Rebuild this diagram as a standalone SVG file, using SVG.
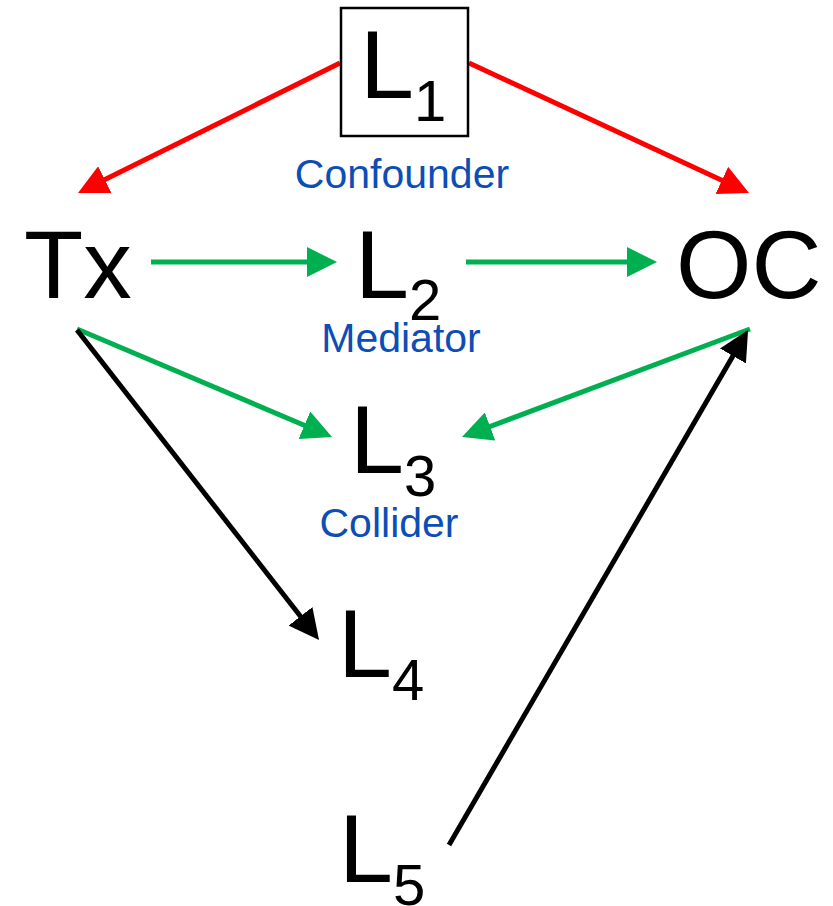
<svg xmlns="http://www.w3.org/2000/svg" width="833" height="906" viewBox="0 0 833 906">
<style>
.big{font-family:"Liberation Sans",Arial,sans-serif;font-size:97px;fill:#000}
.sub{font-size:58px}
.lbl{font-family:"Liberation Sans",Arial,sans-serif;font-size:41px;fill:#0C4DB6;text-anchor:middle}
.red{stroke:#FF0000;stroke-width:5;fill:none;marker-end:url(#ar)}
.grn{stroke:#00B050;stroke-width:5;fill:none;marker-end:url(#ag)}
.blk{stroke:#000;stroke-width:5;fill:none;marker-end:url(#ab)}
</style>
<defs>
<marker id="ar" markerUnits="userSpaceOnUse" markerWidth="30" markerHeight="30" refX="10" refY="15" orient="auto" viewBox="0 0 30 30"><path d="M0,0 L30,15 L0,30 z" fill="#FF0000"/></marker>
<marker id="ag" markerUnits="userSpaceOnUse" markerWidth="30" markerHeight="30" refX="10" refY="15" orient="auto" viewBox="0 0 30 30"><path d="M0,0 L30,15 L0,30 z" fill="#00B050"/></marker>
<marker id="ab" markerUnits="userSpaceOnUse" markerWidth="30" markerHeight="30" refX="10" refY="15" orient="auto" viewBox="0 0 30 30"><path d="M0,0 L30,15 L0,30 z" fill="#000"/></marker>
</defs>
<rect width="833" height="906" fill="#fff"/>
<g id="connectors">
<line class="red" x1="340" y1="63" x2="95.9" y2="184.1"/>
<line class="red" x1="469" y1="63" x2="730.9" y2="184.6"/>
<line class="grn" x1="151" y1="262" x2="317" y2="262"/>
<line class="grn" x1="466" y1="262" x2="637" y2="262"/>
<line class="grn" x1="77" y1="329" x2="313.6" y2="429.2"/>
<line class="grn" x1="750" y1="329" x2="480.7" y2="430"/>
<line class="blk" x1="77" y1="330" x2="306.7" y2="624.2"/>
<line class="blk" x1="449" y1="845" x2="738" y2="347.3"/>
</g>
<g id="L1">
<rect x="341" y="8" width="127" height="128" fill="#fff" stroke="#000" stroke-width="2.5"/>
<text class="big" x="360" y="98">L<tspan class="sub" dy="23">1</tspan></text>
<text class="lbl" x="402" y="188">Confounder</text>
</g>
<g id="Tx"><text class="big" x="24" y="298">Tx</text></g>
<g id="L2">
<text class="big" x="355" y="298">L<tspan class="sub" dy="22">2</tspan></text>
<text class="lbl" x="401" y="352">Mediator</text>
</g>
<g id="OC"><text class="big" x="676" y="298">OC</text></g>
<g id="L3">
<text class="big" x="350" y="473">L<tspan class="sub" dy="23">3</tspan></text>
<text class="lbl" x="389" y="537">Collider</text>
</g>
<g id="L4"><text class="big" x="338" y="677">L<tspan class="sub" dy="23">4</tspan></text></g>
<g id="L5"><text class="big" x="339" y="882">L<tspan class="sub" dy="23">5</tspan></text></g>
</svg>
